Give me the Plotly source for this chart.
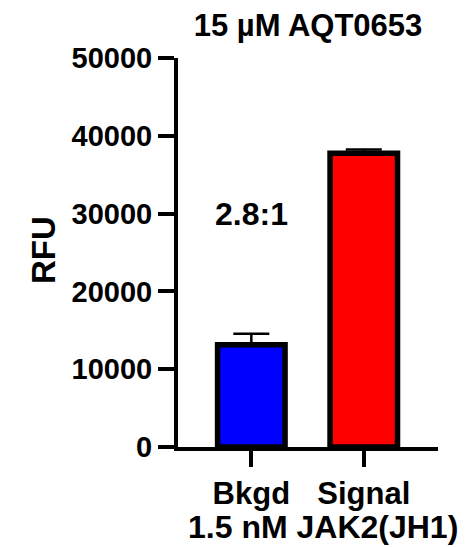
import plotly.graph_objects as go

categories = ["Bkgd", "Signal"]
rfu_values = [13150, 37750]
rfu_errors = [1400, 500]
bar_colors = ["#0000FF", "#FF0000"]
ratio_label = "2.8:1"
ratio_y = 30000
y_ticks = [0, 10000, 20000, 30000, 40000, 50000]

FONT = "Liberation Sans, Arial, sans-serif"
# page has an 8px body margin, so the figure is drawn 8px smaller and everything shifted
W, H = 461, 539
L, R, T, B = 170, 31, 50, 100
PW, PH = W - L - R, H - T - B

fig = go.Figure()
fig.add_trace(go.Bar(
    x=categories,
    y=rfu_values,
    width=0.6,
    marker=dict(color=bar_colors, line=dict(color="black", width=5.5)),
    error_y=dict(type="data", symmetric=False, array=rfu_errors,
                 arrayminus=[0] * len(rfu_errors),
                 color="black", thickness=2.5, width=18),
))

fig.add_annotation(x=categories[0], y=ratio_y, text=ratio_label, showarrow=False,
                   font=dict(family=FONT, size=32, color="black", weight="bold"),
                   xanchor="center", yanchor="middle")

fig.add_annotation(xref="paper", yref="paper", x=(315 - L) / PW, y=-(519 - (H - B)) / PH,
                   text="1.5 nM JAK2(JH1)", showarrow=False,
                   font=dict(family=FONT, size=32, color="black", weight="bold"),
                   xanchor="center", yanchor="middle")

fig.add_annotation(xref="paper", yref="paper", x=-(L - 35) / PW, y=((H - B) - 242) / PH,
                   text="RFU", showarrow=False, textangle=-90,
                   font=dict(family=FONT, size=33, color="black", weight="bold"),
                   xanchor="center", yanchor="middle")

fig.update_layout(
    width=W, height=H,
    margin=dict(l=L, r=R, t=T, b=B),
    plot_bgcolor="white", paper_bgcolor="white",
    showlegend=False,
    title=dict(text="15 µM AQT0653", x=300 / W, xanchor="center",
               y=1 - 17 / H, yanchor="middle",
               font=dict(family=FONT, size=31, color="black", weight="bold")),
    xaxis=dict(type="category", range=[-0.652, 1.66], showline=True, linecolor="black",
               linewidth=4, ticks="outside", ticklen=16, tickwidth=4, tickcolor="black",
               showgrid=False, zeroline=False,
               tickfont=dict(family=FONT, size=31, color="black", weight="bold")),
    yaxis=dict(range=[0, 50000], tickvals=y_ticks, showline=True, linecolor="black",
               linewidth=4, ticks="outside", ticklen=16, tickwidth=4, tickcolor="black",
               showgrid=False, zeroline=False, tickformat="d",
               tickfont=dict(family=FONT, size=29, color="black", weight="bold")),
)

fig.write_html("out.html")
